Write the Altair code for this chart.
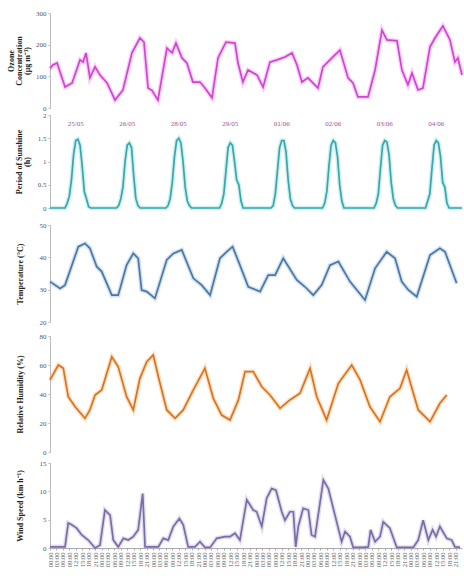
import altair as alt
import pandas as pd

# ---------------- data (hours since 25/05 00:00) ----------------
oz_h = [0, 1.4, 3.3, 7.0, 10.3, 14.0, 15.4, 16.8, 18.6, 21.0, 23.3, 26.6, 30.3, 34.0, 38.2,
        41.9, 43.8, 45.7, 47.6, 50.3, 54.5, 56.9, 58.7, 61.5, 63.8, 66.6, 69.9, 72.2, 75.5,
        78.3, 82.0, 86.2, 87.6, 89.9, 92.3, 96.5, 99.3, 102.5, 105.8, 109.5, 112.8, 115.1,
        117.4, 120.2, 124.9, 127.2, 131.4, 135.1, 138.9, 141.2, 143.5, 148.2, 151.5, 154.7,
        157.0, 161.7, 164.0, 166.8, 168.7, 171.5, 173.8, 177.1, 179.4, 183.1, 186.4, 188.7,
        190.1, 192]
oz_v = [125, 136, 142, 66, 79, 152, 145, 174, 95, 130, 104, 79, 25, 57, 174, 221, 208, 63, 55,
        25, 189, 174, 205, 158, 142, 82, 82, 63, 32, 158, 208, 205, 142, 82, 120, 104, 66, 145,
        152, 161, 174, 136, 82, 95, 63, 130, 158, 183, 95, 79, 35, 35, 120, 246, 215, 212, 120,
        73, 110, 57, 63, 193, 221, 259, 215, 145, 158, 104]

# sunshine (h), hours 06..19 of each day; night hours are 0
sun_days = [
    [0, 0, 0.10, 0.25, 0.60, 1.15, 1.45, 1.48, 1.35, 0.90, 0.35, 0.20, 0.03, 0],
    [0, 0, 0.05, 0.20, 0.45, 1.00, 1.35, 1.40, 1.30, 0.70, 0.20, 0.05, 0, 0],
    [0, 0.05, 0.20, 0.55, 1.10, 1.45, 1.50, 1.40, 1.00, 0.45, 0.15, 0.05, 0, 0],
    [0, 0, 0.10, 0.30, 0.80, 1.30, 1.40, 1.35, 1.00, 0.60, 0.50, 0.15, 0, 0],
    [0, 0, 0.05, 0.30, 0.80, 1.30, 1.45, 1.45, 1.20, 0.60, 0.20, 0.05, 0, 0],
    [0, 0, 0.10, 0.35, 0.90, 1.35, 1.45, 1.40, 1.10, 0.50, 0.15, 0, 0, 0],
    [0, 0, 0.10, 0.30, 0.85, 1.35, 1.45, 1.42, 1.15, 0.55, 0.20, 0.05, 0, 0],
    [0, 0, 0.15, 0.30, 0.85, 1.35, 1.45, 1.40, 1.10, 0.55, 0.45, 0.10, 0, 0],
]
day_labels = ["25/05", "26/05", "28/05", "29/05", "01/06", "02/06", "03/06", "04/06"]

t_h = [0, 4.7, 7.0, 13.2, 16.3, 18.6, 21.8, 24.1, 28.8, 31.8, 35.7, 38.8, 41.1, 42.7, 45.1, 48.9,
       54.4, 57.5, 61.4, 66.8, 70.7, 74.6, 79.2, 82.3, 85.1, 88.5, 92.4, 97.9, 101.7, 104.9,
       108.7, 115.0, 118.8, 122.7, 126.6, 130.5, 134.4, 139.8, 146.8, 151.5, 156.9, 160.8,
       163.9, 167.0, 170.9, 177.1, 181.7, 184.1, 189.5]
t_v = [32.5, 30.4, 31.4, 43.3, 44.3, 42.8, 37.1, 35.6, 28.3, 28.3, 37.6, 41.2, 39.7, 29.9, 29.4,
       27.3, 39.2, 41.2, 42.3, 33.5, 31.4, 28.3, 39.7, 41.7, 43.3, 37.6, 30.9, 29.4, 34.5, 34.5,
       39.7, 33.0, 30.9, 28.3, 31.4, 37.6, 38.7, 32.5, 26.8, 36.6, 41.7, 39.7, 32.5, 29.9, 27.8,
       40.7, 42.8, 41.7, 32.0]

rh_h = [0, 3.9, 6.2, 8.5, 11.7, 16.3, 18.6, 21.0, 24.1, 28.8, 31.8, 35.7, 38.8, 41.9, 45.1, 48.1,
        50.5, 54.4, 58.3, 62.1, 66.8, 72.2, 76.1, 80.0, 83.9, 87.8, 90.9, 94.7, 98.7, 102.5,
        107.2, 111.8, 116.5, 121.2, 124.3, 128.9, 134.4, 140.6, 144.5, 149.1, 153.8, 158.4,
        163.1, 166.2, 171.6, 177.1, 181.7, 184.9]
rh_v = [49.7, 60.0, 57.7, 38.1, 31.2, 23.2, 29.0, 39.3, 42.8, 65.7, 58.8, 38.1, 29.0, 50.8, 62.3,
        66.9, 51.9, 29.0, 23.2, 29.0, 42.8, 57.7, 37.0, 25.5, 22.1, 35.9, 55.4, 55.4, 45.0, 39.3,
        30.1, 35.9, 40.5, 57.7, 38.1, 22.1, 47.4, 60.0, 49.7, 31.2, 20.9, 38.1, 43.9, 56.6, 29.0,
        20.9, 33.6, 39.3]

ws_h = [0, 7.0, 8.5, 10.1, 12.4, 14.8, 17.8, 21.0, 23.3, 25.6, 28.0, 29.5, 31.8, 34.2, 36.5,
        38.8, 41.1, 43.2, 44.3, 46.6, 50.5, 52.8, 55.1, 57.5, 60.3, 62.1, 64.4, 67.6, 69.9, 72.2,
        74.6, 77.7, 81.6, 83.9, 86.2, 88.5, 91.7, 94.7, 96.3, 98.7, 101.0, 103.3, 105.3, 108.0,
        109.5, 111.8, 113.4, 114.5, 115.7, 118.0, 120.4, 121.9, 123.5, 127.4, 129.7, 132.8,
        135.9, 137.5, 139.8, 141.3, 146.0, 148.3, 149.4, 151.5, 153.8, 155.3, 158.4, 161.6,
        169.3, 171.6, 173.9, 176.3, 178.3, 179.9, 181.7, 184.9, 187.2, 188.7, 191.1]
ws_v = [0.2, 0.2, 4.4, 4.1, 3.5, 2.3, 1.4, 0.0, 0.5, 6.7, 5.8, 1.4, 0.2, 1.7, 1.4, 2.0, 3.2, 9.6,
        0.2, 0.2, 0.2, 1.7, 1.4, 3.8, 5.2, 4.1, 0.2, 0.2, 1.1, 0.1, 0.1, 1.7, 2.0, 2.0, 2.6, 1.4,
        8.5, 6.7, 6.4, 3.8, 8.8, 10.5, 10.2, 6.4, 4.9, 6.4, 6.4, 0.2, 3.8, 7.0, 6.7, 2.3, 2.0,
        12.0, 10.5, 5.8, 1.1, 2.9, 2.0, 0.1, 0.1, 0.2, 3.2, 1.1, 2.0, 4.6, 3.5, 0.1, 0.1, 1.4,
        4.9, 1.4, 3.2, 2.0, 3.8, 1.7, 1.4, 0.2, 0.1]

# ---------------- build ----------------
sun_h, sun_v = [], []
for i, day in enumerate(sun_days):
    for hh in range(24):
        sun_h.append(24 * i + hh)
        sun_v.append(day[hh - 6] if 6 <= hh <= 19 else 0)
sun_h.append(192)
sun_v.append(0)

FONT = "Liberation Serif"
W = 412
XDOM = [0, 192]
x_ticks = list(range(0, 190, 3))


def panel(h, v, color, glow, title, domain, ticks, height, gap, tpad, bottom=False, extra=None):
    df = pd.DataFrame({"h": h, "v": v})
    if bottom:
        xax = alt.Axis(values=x_ticks, labelAngle=270, labelFontSize=6.5, labelOverlap=False,
                       labelExpr="(datum.value % 24 < 10 ? '0' : '') + (datum.value % 24) + ':00'",
                       title=None, grid=False, tickSize=2, labelPadding=2,
                       domainColor="#aaaaaa", tickColor="#aaaaaa", labelColor="#555555")
    else:
        xax = None
    x = alt.X("h:Q", scale=alt.Scale(domain=XDOM, nice=False, zero=False), axis=xax)
    y = alt.Y("v:Q", scale=alt.Scale(domain=domain, nice=False, range=[height, gap]),
              axis=alt.Axis(values=ticks, title=title, grid=False, tickSize=2, format=".1~f",
                            labelPadding=2, titlePadding=tpad, titleLineHeight=8))
    base = alt.Chart(df)
    g = base.mark_line(color=glow, strokeWidth=4.5, opacity=0.4).encode(x=x, y=y)
    c = base.mark_line(color=color, strokeWidth=1.7).encode(x=x, y=y)
    layers = [g, c]
    if extra is not None:
        layers.append(extra)
    return alt.layer(*layers).properties(width=W, height=height)


dates_df = pd.DataFrame({"d": day_labels, "h": [24 * i + 12 for i in range(len(day_labels))]})
date_text = alt.Chart(dates_df).mark_text(font=FONT, fontSize=7, color="#a0509a").encode(
    x=alt.X("h:Q", scale=alt.Scale(domain=XDOM, nice=False, zero=False), axis=None),
    y=alt.value(16), text="d:N")

oz = panel(oz_h, oz_v, "#cf45d0", "#f08af0", ["Ozone", "Concentration", "(μg m⁻³)"],
           [0, 300], [0, 100, 200, 300], 95, 0, 4)
sun = panel(sun_h, sun_v, "#36a8ad", "#86d6da", ["Period of Sunshine", "(h)"],
            [0, 2], [0, 0.5, 1, 1.5, 2], 100, 7, 6, extra=date_text)
tmp = panel(t_h, t_v, "#4977a8", "#93b6d8", "Temperature (°C)", [20, 50], [20, 30, 40, 50],
            114, 17, 15)
rh = panel(rh_h, rh_v, "#d8741e", "#f4b26e", "Relative Humidity (%)", [0, 80],
           [0, 20, 40, 60, 80], 130, 14, 15)
ws = panel(ws_h, ws_v, "#7a6ca6", "#b6aad8", "Wind Speed (km h⁻¹)", [0, 15], [0, 5, 10, 15],
           96, 11, 15, bottom=True)

chart = alt.vconcat(oz, sun, tmp, rh, ws, spacing=0, bounds="flush").properties(
    autosize=alt.AutoSizeParams(type="none"),
    padding={"left": 50, "top": 13, "right": 2, "bottom": 565}
).configure_view(stroke=None).configure_axis(
    labelFont=FONT, titleFont=FONT, labelFontSize=7, labelColor="#555555",
    titleFontSize=8, titleFontWeight="bold", titleColor="#222222",
    domainColor="#bbbbbb", tickColor="#bbbbbb"
)

chart.save("out.html", embed_options={"renderer": "svg", "actions": False})
